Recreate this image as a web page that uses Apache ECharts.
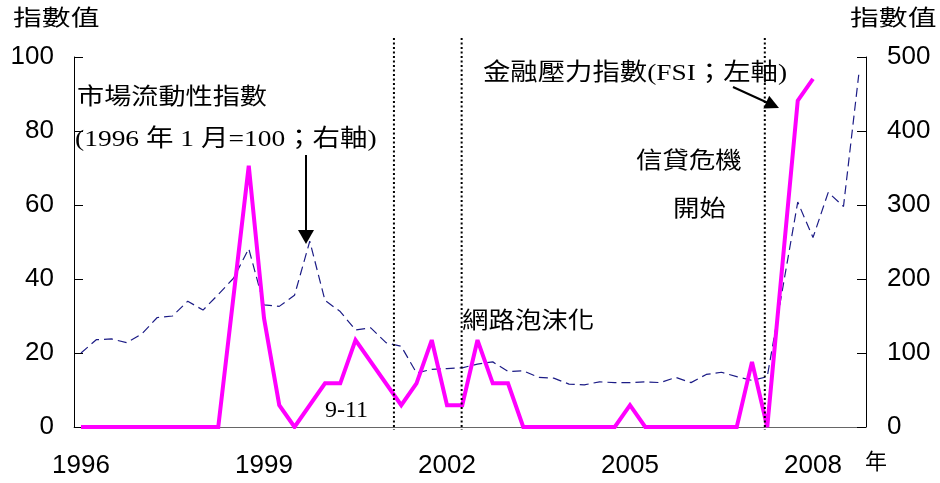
<!DOCTYPE html>
<html><head><meta charset="utf-8">
<script src="https://cdn.jsdelivr.net/npm/echarts@6/dist/echarts.min.js"></script>
<style>html,body{margin:0;padding:0;background:#fff}#c{width:940px;height:483px}</style>
</head><body><div id="c"></div>
<script>
// x tick labels (years)
const yearTicks = [1996, 1999, 2002, 2005, 2008];
// Financial stress index (left axis), vertices by decimal year
const fsiTime  = [1996.00, 1998.25, 1998.75, 1999.00, 1999.25, 1999.50, 2000.00, 2000.25, 2000.50, 2001.25, 2001.50, 2001.75, 2002.00, 2002.25, 2002.50, 2002.75, 2003.00, 2003.25, 2004.75, 2005.00, 2005.25, 2006.75, 2007.00, 2007.25, 2007.75, 2008.00];
const fsiValue = [0, 0, 70.6, 29.4, 5.9, 0, 11.8, 11.8, 23.5, 5.9, 11.8, 23.5, 5.9, 5.9, 23.5, 11.8, 11.8, 0, 0, 5.9, 0, 0, 17.6, 0, 88.2, 94.1];
// Market liquidity index (1996 Jan = 100, right axis), quarterly
const liqTime  = [1996.00, 1996.25, 1996.50, 1996.75, 1997.00, 1997.25, 1997.50, 1997.75, 1998.00, 1998.25, 1998.50, 1998.75, 1999.00, 1999.25, 1999.50, 1999.75, 2000.00, 2000.25, 2000.50, 2000.75, 2001.00, 2001.25, 2001.50, 2001.75, 2002.00, 2002.25, 2002.50, 2002.75, 2003.00, 2003.25, 2003.50, 2003.75, 2004.00, 2004.25, 2004.50, 2004.75, 2005.00, 2005.25, 2005.50, 2005.75, 2006.00, 2006.25, 2006.50, 2006.75, 2007.00, 2007.25, 2007.50, 2007.75, 2008.00, 2008.25, 2008.50, 2008.75];
const liqValue = [100, 118, 119, 114, 126, 148, 150, 170, 158, 179, 201, 241, 165, 163, 178, 251, 171, 156, 131, 134, 114, 109, 73, 78, 79, 80, 85, 88, 75, 76, 67, 66, 58, 57, 61, 60, 60, 61, 60, 67, 60, 71, 74, 68, 63, 68, 186, 304, 256, 317, 298, 476];
// Event markers (dotted verticals)
const eventTime = [2001.13, 2002.24, 2007.21];

const chart = echarts.init(document.getElementById('c'), null, {renderer: 'canvas'});
const fsiData = fsiTime.map((t, i) => [t, fsiValue[i]]);
const liqData = liqTime.map((t, i) => [t, liqValue[i]]);
const numFont = '"Liberation Sans", Arial, sans-serif';
const annFont = '"Liberation Serif", "Noto Sans CJK TC", serif';

const option = {
  animation: false,
  backgroundColor: '#fff',
  grid: {left: 74, right: 74, top: 57, bottom: 56, containLabel: false},
  xAxis: {
    type: 'value', min: 1995.885, max: 2008.869,
    splitLine: {show: false},
    axisLine: {show: true, onZero: false, lineStyle: {color: '#666', width: 1}},
    axisTick: {show: false},
    axisLabel: {customValues: yearTicks, formatter: v => String(v), fontFamily: numFont, fontSize: 26, color: '#000', margin: 26}
  },
  yAxis: [
    {type: 'value', min: 0, max: 100, interval: 20, splitLine: {show: false},
     axisLine: {show: true, lineStyle: {color: '#000'}},
     axisTick: {show: true, inside: true, length: 9, lineStyle: {color: '#000'}},
     axisLabel: {fontFamily: numFont, fontSize: 26, color: '#000', margin: 20}},
    {type: 'value', min: 0, max: 500, interval: 100, splitLine: {show: false}, position: 'right',
     axisLine: {show: true, lineStyle: {color: '#000'}},
     axisTick: {show: true, inside: true, length: 9, lineStyle: {color: '#000'}},
     axisLabel: {fontFamily: numFont, fontSize: 26, color: '#000', margin: 21}}
  ],
  series: [
    {type: 'line', name: '市場流動性指數', yAxisIndex: 1, data: liqData, showSymbol: false, symbol: 'none',
     lineStyle: {color: '#1c1c86', width: 1.2, type: [9, 5]}, z: 2},
    {type: 'line', name: '金融壓力指數', yAxisIndex: 0, data: fsiData, showSymbol: false, symbol: 'none',
     lineStyle: {color: '#ff00ff', width: 4, join: 'miter', miterLimit: 2.5}, z: 3}
  ]
};
chart.setOption(option);

function txt(text, x, y, size, sx, family) {
  return {type: 'text', x: x, y: y, scaleX: sx || 1, z: 10,
    style: {text: text, font: size + 'px ' + (family || annFont), fill: '#000',
      align: 'left', textAlign: 'left', verticalAlign: 'middle', textVerticalAlign: 'middle'}};
}
const g = [];
eventTime.forEach(t => {
  const px = chart.convertToPixel({xAxisIndex: 0}, t);
  g.push({type: 'line', z: 5, shape: {x1: px, y1: 38, x2: px, y2: 430},
    style: {stroke: '#000', lineWidth: 2, lineDash: [2, 2.5]}});
});
g.push(txt('指數值', 13, 19, 22, 1.31));
g.push(txt('指數值', 850, 19, 22, 1.31));
g.push(txt('市場流動性指數', 77, 98, 23, 1.18));
g.push(txt('(1996 年 1 月=100；右軸)', 75, 140, 24, 1.145));
g.push(txt('9-11', 325, 411, 24, 1));
g.push(txt('網路泡沫化', 462, 322, 23, 1.15));
g.push(txt('金融壓力指數(FSI；左軸)', 483, 74, 24, 1.14));
g.push(txt('信貸危機', 636, 162, 23, 1.15));
g.push(txt('開始', 673, 210, 23, 1.15));
g.push(txt('年', 865, 463, 22, 1));
// arrows
g.push({type: 'line', z: 10, shape: {x1: 306, y1: 155, x2: 306, y2: 232}, style: {stroke: '#000', lineWidth: 2}});
g.push({type: 'polygon', z: 10, shape: {points: [[298, 230], [314, 230], [306, 244]]}, style: {fill: '#000'}});
g.push({type: 'line', z: 10, shape: {x1: 733, y1: 87, x2: 767, y2: 102.5}, style: {stroke: '#000', lineWidth: 2}});
g.push({type: 'polygon', z: 10, shape: {points: [[779, 108], [763.4, 108.6], [769.2, 95.8]]}, style: {fill: '#000'}});
chart.setOption({graphic: g});
</script>
</body></html>
